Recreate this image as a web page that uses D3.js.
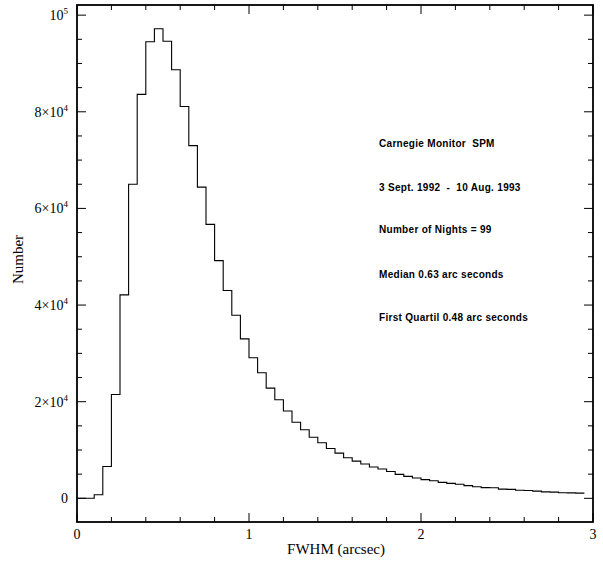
<!DOCTYPE html>
<html>
<head>
<meta charset="utf-8">
<script src="https://cdn.jsdelivr.net/npm/d3@7"></script>
<style>
  html, body { margin: 0; padding: 0; background: #fff; }
  svg { display: block; }
  text { fill: #000; }
</style>
</head>
<body>
<svg id="chart" width="603" height="565"></svg>
<script>
// ---- data ----
const binStart = 0;
const binWidth = 0.05;
// counts per 0.05 arcsec FWHM bin, starting at 0.00
const counts = [
  0, 0, 750, 6600, 21500, 42100, 65000, 83600, 94500, 97200,
  94600, 88700, 81100, 73000, 64400, 56700, 49200, 43000, 37900, 33000,
  29100, 26000, 22800, 20400, 18060, 15750, 14200, 12650, 11500, 10300,
  9350, 8410, 7700, 7100, 6480, 6060, 5550, 4960, 4550, 4210,
  3860, 3650, 3310, 3100, 2900, 2620, 2410, 2210, 2200, 1900,
  1850, 1680, 1620, 1480, 1330, 1280, 1150, 1120, 1080
];
const xTicksMajor = [0, 1, 2, 3];
const xTickLabels = ["0", "1", "2", "3"];
const yTicksMajor = [0, 20000, 40000, 60000, 80000, 100000];
const yTickLabels = [
  {base: "0", sup: ""},
  {base: "2\u00d710", sup: "4"},
  {base: "4\u00d710", sup: "4"},
  {base: "6\u00d710", sup: "4"},
  {base: "8\u00d710", sup: "4"},
  {base: "10", sup: "5"}
];
const infoLines = [
  "Carnegie Monitor  SPM",
  "3 Sept. 1992  -  10 Aug. 1993",
  "Number of Nights = 99",
  "Median 0.63 arc seconds",
  "First Quartil 0.48 arc seconds"
];
const xLabel = "FWHM (arcsec)";
const yLabel = "Number";

// ---- layout ----
const L = 77, R = 593, T = 5, B = 522;
const svg = d3.select("#chart");
const x = d3.scaleLinear().domain([0, 3]).range([L, R]);
const y = d3.scaleLinear().domain([-4900, 102100]).range([B, T]);

const serif = "'Liberation Serif', 'Times New Roman', serif";

// histogram step line
const pts = counts.map((c, i) => [binStart + i * binWidth, c]);
pts.push([binStart + counts.length * binWidth, counts[counts.length - 1]]);
const line = d3.line().x(d => x(d[0])).y(d => y(d[1])).curve(d3.curveStepAfter);
svg.append("path")
  .attr("d", line(pts))
  .attr("fill", "none")
  .attr("stroke", "#000")
  .attr("stroke-width", 1.1);

// frame
svg.append("rect")
  .attr("x", L).attr("y", T).attr("width", R - L).attr("height", B - T)
  .attr("fill", "none").attr("stroke", "#000").attr("stroke-width", 1.8);

// ticks (inward on all four sides)
const xMinor = d3.range(0, 3.0001, 0.2).map(v => +v.toFixed(2));
const yMinor = d3.range(0, 100001, 5000);
const g = svg.append("g").attr("stroke", "#000").attr("stroke-width", 1);
xMinor.forEach(v => {
  const major = Math.abs(v - Math.round(v)) < 1e-6 && xTicksMajor.includes(Math.round(v));
  const len = major ? 9 : 5;
  g.append("line").attr("x1", x(v)).attr("x2", x(v)).attr("y1", B).attr("y2", B - len);
  g.append("line").attr("x1", x(v)).attr("x2", x(v)).attr("y1", T).attr("y2", T + len);
});
yMinor.forEach(v => {
  const major = yTicksMajor.includes(v);
  const len = major ? 9 : 5;
  g.append("line").attr("x1", L).attr("x2", L + len).attr("y1", y(v)).attr("y2", y(v));
  g.append("line").attr("x1", R).attr("x2", R - len).attr("y1", y(v)).attr("y2", y(v));
});

// x tick labels
xTicksMajor.forEach((v, i) => {
  svg.append("text")
    .attr("x", x(v)).attr("y", B + 17)
    .attr("text-anchor", "middle")
    .attr("font-family", serif).attr("font-size", 14)
    .attr("fill", "#000")
    .text(xTickLabels[i]);
});

// y tick labels
yTicksMajor.forEach((v, i) => {
  const lab = yTickLabels[i];
  const t = svg.append("text")
    .attr("x", L - 9).attr("y", y(v) + 5)
    .attr("text-anchor", "end")
    .attr("font-family", serif).attr("font-size", 14)
    .attr("fill", "#000");
  t.append("tspan").text(lab.base);
  if (lab.sup) {
    t.append("tspan").attr("dy", -6).attr("font-size", 9).text(lab.sup);
  }
});

// axis labels
svg.append("text")
  .attr("x", x(1.5) + 1).attr("y", 554)
  .attr("text-anchor", "middle")
  .attr("font-family", serif).attr("font-size", 15)
  .attr("fill", "#000")
  .text(xLabel);
svg.append("text")
  .attr("transform", `translate(23, ${(T + B) / 2 - 4}) rotate(-90)`)
  .attr("text-anchor", "middle")
  .attr("font-family", serif).attr("font-size", 15)
  .attr("fill", "#000")
  .text(yLabel);

// info block
const infoY = [147, 190.5, 233, 277.5, 320.5];
infoLines.forEach((s, i) => {
  svg.append("text")
    .attr("x", 379).attr("y", infoY[i])
    .attr("font-family", "'Liberation Sans', Arial, sans-serif")
    .attr("font-weight", "bold")
    .attr("font-size", 10)
    .attr("letter-spacing", 0.3)
    .attr("fill", "#000")
    .attr("xml:space", "preserve")
    .style("white-space", "pre")
    .text(s);
});
</script>
</body>
</html>
